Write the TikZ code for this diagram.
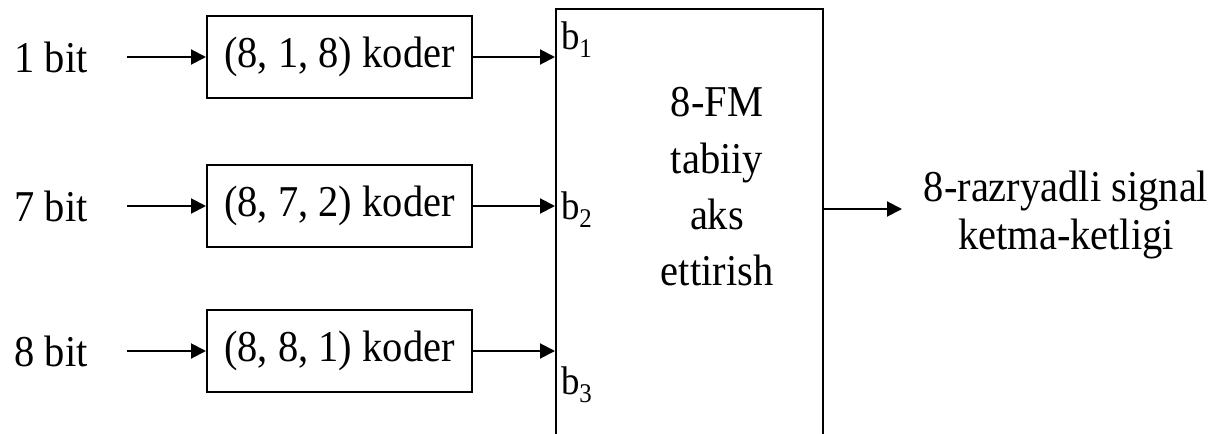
\documentclass[tikz,border=0pt]{standalone}
\usepackage{fontspec}
\setmainfont{Liberation Serif}[FakeStretch=0.92]
\usetikzlibrary{arrows.meta}
\newcommand{\bidx}[1]{{\fontsize{40}{40}\selectfont b\raisebox{-8pt}{\fontsize{27}{27}\selectfont #1}}}

\begin{document}
\begin{tikzpicture}[x=1pt,y=-1pt,line width=2pt,
  font=\fontsize{44}{48}\selectfont,
  koder/.style={draw,minimum width=265pt,minimum height=82pt,inner sep=0pt},
  arr/.style={-{Triangle[length=15pt,width=15pt]}}]
  \useasboundingbox (0,0) rectangle (1227,434);
  \clip (0,0) rectangle (1227,434);
  % mapping block (its lower edge runs off the page)
  \node[draw,minimum width=267pt,minimum height=440pt,anchor=north west] (fm) at (555,8) {};
  \node[align=center,font=\fontsize{44}{56.3}\selectfont] (fmtxt) at (717,187) {8-FM\\tabiiy\\aks\\ettirish};
  % three coder branches
  \foreach \k/\y/\bits/\code in {1/57/1/{(8, 1, 8)},2/206/7/{(8, 7, 2)},3/351/8/{(8, 8, 1)}} {
    \node (in\k) at (51,\y) {\bits{} bit};
    \node[koder] (c\k) at (339.5,\y) {\code{} koder};
    \coordinate (s\k) at (127,\y);
    \draw[arr] (s\k) -- (c\k);
    \draw[arr] (c\k) -- (c\k -| fm.west);
  }
  \foreach \k/\y in {1/49,2/219,3/394}
    \node[anchor=base west,inner sep=0pt] (b\k) at (560,\y) {\bidx{\k}};
  % output
  \coordinate (tip) at (902,209);
  \draw[arr] (fm.east |- tip) -- (tip);
  \node[align=center] (out) at (1066,215) {8-razryadli signal\\ketma-ketligi};
\end{tikzpicture}
\end{document}
